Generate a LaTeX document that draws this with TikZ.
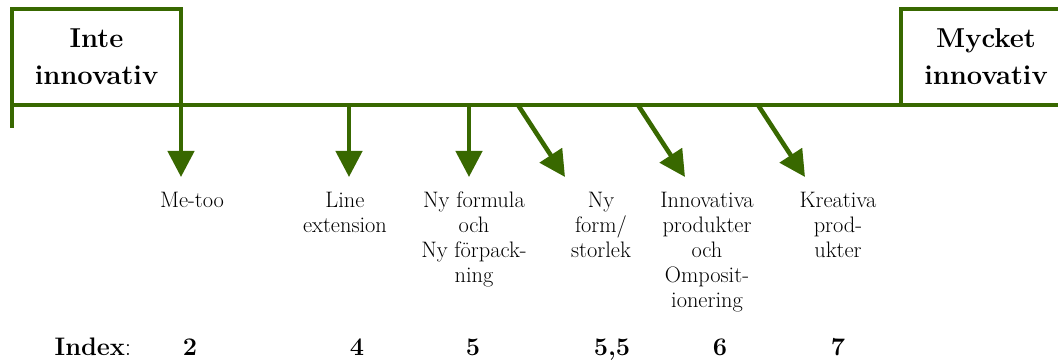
\documentclass[tikz,border=0pt]{standalone}
\usetikzlibrary{arrows.meta}
\definecolor{grn}{RGB}{56,104,0}
\begin{document}
\begin{tikzpicture}[x=0.75pt,y=-0.75pt,
  box/.style={draw=grn, line width=2.3pt, fill=white, inner sep=0pt, outer sep=0pt,
    font=\bfseries\fontsize{20.5}{27.75}\selectfont, align=center,
    minimum height=72pt},
  axisline/.style={draw=grn, line width=3pt},
  arr/.style={draw=grn, line width=3.4pt, -{Triangle[length=19.5pt,width=19.5pt]}},
  lab/.style={font=\fontsize{16.8}{18.75}\selectfont, align=center, anchor=north, inner sep=0pt},
  idx/.style={font=\bfseries\fontsize{19}{20}\selectfont, anchor=base, inner sep=0pt}]
\useasboundingbox (0,0) rectangle (1058,360);
\clip (0,0) rectangle (1058,360);
% end boxes
\node[box, minimum width=126.75pt] (L) at (96.5,57) {Inte\\innovativ};
\node[box, minimum width=127.5pt] (R) at (986,57) {Mycket\\innovativ};
% axis
\coordinate (stub) at (12,128);
\draw[axisline] (stub) -- (L.south west) -- (R.south west);
% arrow starts and tips
\coordinate (s1) at (181,105); \coordinate (t1) at (181,177);
\coordinate (s2) at (349,105); \coordinate (t2) at (349,177);
\coordinate (s3) at (469,105); \coordinate (t3) at (469,177);
\coordinate (s4) at (518,105); \coordinate (t4) at (565,177);
\coordinate (s5) at (638,105); \coordinate (t5) at (685,177);
\coordinate (s6) at (758,105); \coordinate (t6) at (805,177);
\foreach \i in {1,...,6} { \draw[arr] (s\i) -- (t\i); }
% labels
\node[lab] (l1) at (192,192) {Me-too};
\node[lab] (l2) at (345,192) {Line\\extension};
\node[lab] (l3) at (474,192) {Ny formula\\och\\Ny förpack-\\ning};
\node[lab] (l4) at (601,192) {Ny\\form/\\storlek};
\node[lab] (l5) at (707,192) {Innovativa\\produkter\\och\\Omposit-\\ionering};
\node[lab] (l6) at (838,192) {Kreativa\\prod-\\ukter};
% index row
\node[idx] (ix) at (93,355) {Index\textmd{:}};
\node[idx] (i1) at (190,355) {2};
\node[idx] (i2) at (357,355) {4};
\node[idx] (i3) at (473,355) {5};
\node[idx] (i4) at (612,355) {5,5};
\node[idx] (i5) at (720,355) {6};
\node[idx] (i6) at (838,355) {7};
\end{tikzpicture}
\end{document}
